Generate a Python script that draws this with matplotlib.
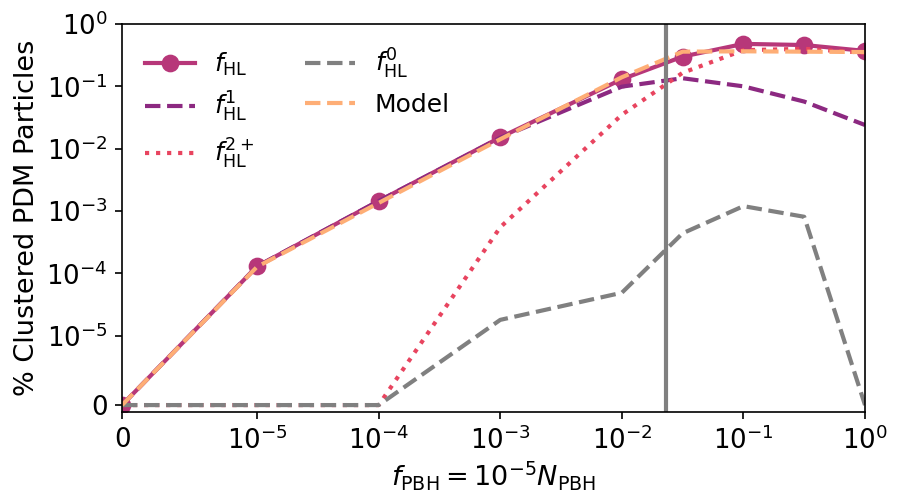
import numpy as np
import matplotlib
matplotlib.use("Agg")
import matplotlib.pyplot as plt
from matplotlib.ticker import NullLocator

# fraction of PBH, half-decade steps above 1e-2
f_pbh = [0, 1e-5, 1e-4, 1e-3, 1e-2, 10**-1.5, 1e-1, 10**-0.5, 1e0]

f_hl = [0, 1.3e-4, 1.45e-3, 1.52e-2, 0.13, 0.30, 0.48, 0.46, 0.37]
f_hl1 = [0, 1.3e-4, 1.45e-3, 1.5e-2, 0.099, 0.135, 0.10, 0.057, 0.024]
f_hl2 = [0, 0, 0, 5.5e-4, 0.035, 0.165, 0.38, 0.40, 0.346]
f_hl0 = [0, 0, 0, 1.8e-5, 4.9e-5, 4.4e-4, 1.2e-3, 8.1e-4, 0]
model = [0, 1.28e-4, 1.35e-3, 1.42e-2, 0.14, 0.36, 0.365, 0.36, 0.355]

f_crit = 0.023

plt.rcParams['font.size'] = 12.5
plt.rcParams['mathtext.fontset'] = 'dejavusans'

fig = plt.figure(figsize=(905/150, 503/150), dpi=150)
ax = fig.add_axes([122/905, 1 - 412/503, (865-122)/905, (412-24)/503])

ax.plot(f_pbh, f_hl, '-o', color='#b73779', lw=2, ms=7.5, label=r'$f_{\rm HL}$')
ax.plot(f_pbh, f_hl1, '--', color='#8c2981', lw=2, label=r'$f_{\rm HL}^{1}$')
ax.plot(f_pbh, f_hl2, ':', color='#e8445f', lw=2, label=r'$f_{\rm HL}^{2+}$')
ax.plot(f_pbh, f_hl0, '--', color='gray', lw=2, label=r'$f_{\rm HL}^{0}$')
ax.plot(f_pbh, model, '--', color='#feae76', lw=2, label='Model')
ax.axvline(f_crit, color='gray', lw=2)

ax.set_xscale('symlog', linthresh=1e-5)
ax.set_yscale('symlog', linthresh=1e-5)
ax.set_xlim(0, 1)
ax.set_ylim(-1e-6, 1)
ax.set_xticks([0, 1e-5, 1e-4, 1e-3, 1e-2, 1e-1, 1e0])
ax.set_yticks([0, 1e-5, 1e-4, 1e-3, 1e-2, 1e-1, 1e0])
ax.xaxis.set_minor_locator(NullLocator())
ax.yaxis.set_minor_locator(NullLocator())
ax.tick_params(labelsize=12.5)

ax.set_xlabel(r'$f_{\rm PBH} = 10^{-5} N_{\rm PBH}$', fontsize=13, labelpad=2)
ax.set_ylabel('% Clustered PDM Particles', fontsize=13, labelpad=3)
ax.legend(ncol=2, frameon=False, loc='upper left', fontsize=12)

fig.savefig('out.png', dpi=150)
